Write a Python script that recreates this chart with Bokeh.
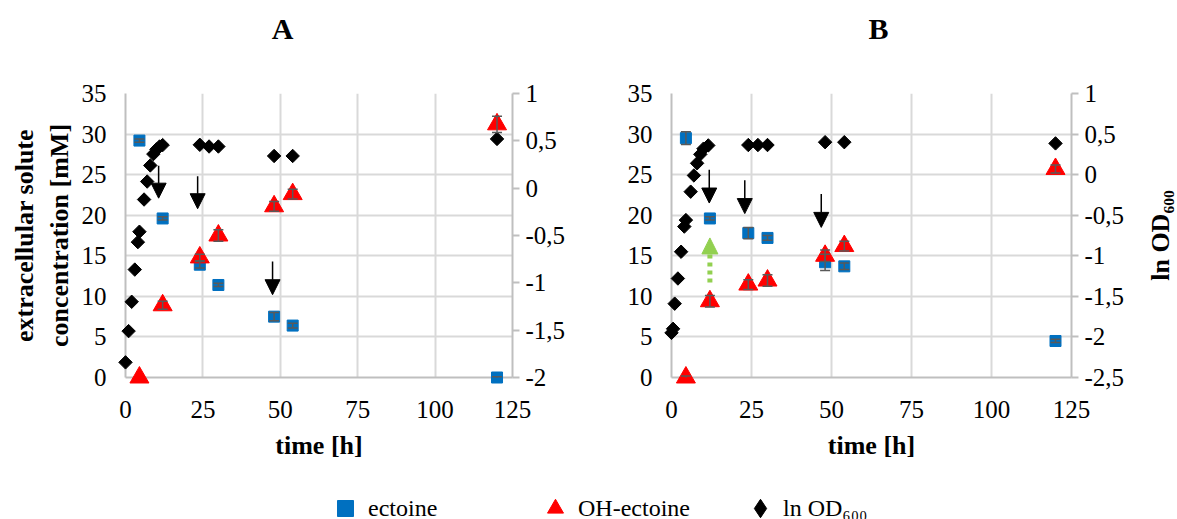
import numpy as np
from bokeh.plotting import figure
from bokeh.models import (Range1d, LinearAxis, FixedTicker, CustomJSTickFormatter, ColumnDataSource,
                          Whisker, TeeHead, Arrow, NormalHead, Legend, LegendItem)
from bokeh.core.properties import value
from bokeh.layouts import column, row
from bokeh.embed import file_html
from bokeh.resources import INLINE

FONT = "Liberation Serif"
BLUE = "#0070C0"
RED = "#FF0000"
GREEN = "#92D050"
GRID = "#D9D9D9"
AXIS = "#BFBFBF"
ERR = "#595959"

# ---------------- data ----------------
x_ticks = [0, 25, 50, 75, 100, 125]
conc_ticks = [0, 5, 10, 15, 20, 25, 30, 35]
od_ticks_a = [-2, -1.5, -1, -0.5, 0, 0.5, 1]
od_ticks_b = [-2.5, -2, -1.5, -1, -0.5, 0, 0.5, 1]

# Panel A
a_ect_t = [4.5, 12, 24, 30, 48, 54, 120]
a_ect = [29.2, 19.6, 13.9, 11.4, 7.5, 6.4, 0.0]
a_ect_err = [0.2, 0.2, 0.4, 0.2, 0.5, 0.3, 0.1]
a_oh_t = [4.5, 12, 24, 30, 48, 54, 120]
a_oh = [0.0, 8.9, 14.8, 17.5, 21.1, 22.6, 31.2]
a_oh_err = [0.0, 0.5, 0.4, 0.7, 0.6, 0.6, 1.0]
a_od_t = [0, 1, 2, 3, 4, 4.5, 6, 7, 8, 9, 10, 11, 12, 24, 27, 30, 48, 54, 120]
a_od = [-1.84, -1.51, -1.2, -0.86, -0.57, -0.46, -0.12, 0.07, 0.24, 0.36, 0.41, 0.44, 0.455,
        0.458, 0.44, 0.44, 0.34, 0.34, 0.52]
a_arrow_t = [10.7, 23.3, 47.5]
a_arrow_from = [26.1, 24.8, 14.3]
a_arrow_to = [22.1, 20.8, 10.2]

# Panel B
b_ect_t = [4.5, 12, 24, 30, 48, 54, 120]
b_ect = [29.5, 19.6, 17.8, 17.2, 14.2, 13.7, 4.5]
b_ect_err = [0.8, 0.2, 0.7, 0.3, 1.0, 0.4, 0.2]
b_oh_t = [4.5, 12, 24, 30, 48, 54, 120]
b_oh = [0.0, 9.4, 11.45, 11.95, 15.0, 16.2, 25.7]
b_oh_err = [0.2, 0.7, 0.6, 0.7, 0.7, 0.6, 0.5]
b_od_t = [0, 0.5, 1, 2, 3, 4, 4.5, 6, 7, 8, 9, 10, 11.5, 24, 27, 30, 48, 54, 120]
b_od = [-1.95, -1.9, -1.59, -1.28, -0.95, -0.64, -0.56, -0.21, -0.01, 0.14, 0.25, 0.32, 0.36,
        0.365, 0.365, 0.365, 0.40, 0.40, 0.385]
b_arrow_t = [11.8, 22.9, 46.8]
b_arrow_from = [25.6, 24.3, 22.6]
b_arrow_to = [21.5, 20.2, 18.5]
b_green_t = [12]
b_green_from = [11.7]
b_green_to = [17.2]

H = 474
TICK_SIZE = "25px"
LABEL_SIZE = "26px"
comma_fmt = CustomJSTickFormatter(code="return tick.toString().replace('.', ',');")


def style_text_axis(ax):
    ax.major_label_text_font = FONT
    ax.major_label_text_font_size = TICK_SIZE
    ax.major_label_text_color = "black"
    ax.axis_label_text_font = FONT
    ax.axis_label_text_font_size = LABEL_SIZE
    ax.axis_label_text_font_style = "bold"
    ax.axis_label_text_color = "black"
    ax.minor_tick_line_color = None
    ax.axis_line_color = AXIS
    ax.axis_line_width = 2


def add_text(p, x, y, txt, size, angle=0.0):
    r = p.text(x=[x], y=[y], text=[txt], angle=angle, text_font=value(FONT),
               text_font_size=value(size), text_font_style="bold", text_color="black",
               text_align="center", text_baseline="middle")
    r.level = "annotation"
    return r


def make_panel(title, title_x, width, left, right,
               ect_t, ect, ect_err, oh_t, oh, oh_err, od_t, od, od_range, od_ticks,
               arr_t, arr_from, arr_to, left_label):
    p = figure(width=width, height=H, x_range=Range1d(0, 125), y_range=Range1d(0, 35),
               output_backend="svg", toolbar_location=None,
               min_border_left=left, min_border_right=right, min_border_top=93, min_border_bottom=97)
    p.outline_line_color = None

    xa = p.below[0]
    style_text_axis(xa)
    xa.ticker = FixedTicker(ticks=x_ticks)
    xa.major_tick_line_color = None
    xa.major_label_standoff = 17
    xa.axis_label = "time [h]"
    xa.axis_label_standoff = 10

    ya = p.left[0]
    style_text_axis(ya)
    ya.ticker = FixedTicker(ticks=conc_ticks)
    ya.major_tick_line_color = None
    ya.major_label_standoff = 13
    if left_label:
        ya.axis_label = left_label
        ya.axis_label_standoff = 5

    p.xgrid.ticker = FixedTicker(ticks=x_ticks)
    p.xgrid.grid_line_color = GRID
    p.xgrid.grid_line_width = 2
    p.ygrid.grid_line_color = GRID
    p.ygrid.grid_line_width = 2

    p.extra_y_ranges = {"od": Range1d(*od_range)}
    ra = LinearAxis(y_range_name="od", ticker=FixedTicker(ticks=od_ticks), formatter=comma_fmt)
    style_text_axis(ra)
    ra.major_tick_line_color = AXIS
    ra.major_tick_line_width = 2
    ra.major_tick_in = 0
    ra.major_tick_out = 7
    ra.major_label_standoff = 6
    p.add_layout(ra, "right")

    # panel title
    add_text(p, title_x, 43.0, title, "30px")

    # markers
    rs = [
        p.scatter(ect_t, ect, marker="square", size=11, fill_color=BLUE, line_color=BLUE),
        p.scatter(oh_t, oh, marker="triangle", size=19, fill_color=RED, line_color=RED),
        p.scatter(od_t, od, marker="square", angle=np.pi / 4, size=9.5, fill_color="black",
                  line_color="black", y_range_name="od"),
    ]
    for r in rs:
        r.level = "annotation"

    # error bars
    for t, v, e in ((ect_t, ect, ect_err), (oh_t, oh, oh_err)):
        tt = [ti for ti, ei in zip(t, e) if ei > 0]
        lo = [vi - ei for vi, ei in zip(v, e) if ei > 0]
        up = [vi + ei for vi, ei in zip(v, e) if ei > 0]
        src = ColumnDataSource(dict(t=tt, lo=lo, up=up))
        w = Whisker(base="t", lower="lo", upper="up", source=src, line_color=ERR, line_width=1.5,
                    upper_head=TeeHead(size=10, line_color=ERR, line_width=1.5),
                    lower_head=TeeHead(size=10, line_color=ERR, line_width=1.5))
        w.level = "annotation"
        p.add_layout(w)

    # annotation arrows
    asrc = ColumnDataSource(dict(x0=arr_t, y0=arr_from, x1=arr_t, y1=arr_to))
    p.add_layout(Arrow(source=asrc, x_start="x0", y_start="y0", x_end="x1", y_end="y1",
                       line_color="black", line_width=1.5,
                       end=NormalHead(size=15, fill_color="black", line_color="black")))
    return p


pA = make_panel("A", 50.7, 580, 125, 68,
                a_ect_t, a_ect, a_ect_err, a_oh_t, a_oh, a_oh_err, a_od_t, a_od, (-2, 1), od_ticks_a,
                a_arrow_t, a_arrow_from, a_arrow_to,
                "extracellular solute\nconcentration [mM]")
pB = make_panel("B", 64.7, 597, 91, 106,
                b_ect_t, b_ect, b_ect_err, b_oh_t, b_oh, b_oh_err, b_od_t, b_od, (-2.5, 1), od_ticks_b,
                b_arrow_t, b_arrow_from, b_arrow_to, None)

gsrc = ColumnDataSource(dict(x0=b_green_t, y0=b_green_from, x1=b_green_t, y1=b_green_to))
pB.add_layout(Arrow(source=gsrc, x_start="x0", y_start="y0", x_end="x1", y_end="y1",
                    line_color=GREEN, line_width=5, line_dash="4 4",
                    end=NormalHead(size=16, fill_color=GREEN, line_color=GREEN)))

# right-hand axis title of panel B (reads bottom to top)
add_text(pB, 152.8, 17.5, "ln OD\u2086\u2080\u2080", LABEL_SIZE, angle=np.pi / 2)

# legend strip
pL = figure(width=1177, height=45, x_range=Range1d(0, 1), y_range=Range1d(0, 1),
            output_backend="svg", toolbar_location=None, min_border=0)
pL.axis.visible = False
pL.grid.visible = False
pL.outline_line_color = None
off = [-5]
r1 = pL.scatter(x=off, y=off, marker="square", size=16, fill_color=BLUE, line_color=BLUE)
r2 = pL.scatter(x=off, y=off, marker="triangle", size=18, fill_color=RED, line_color=RED)
r3 = pL.scatter(x=off, y=off, marker="diamond", size=16, fill_color="black", line_color="black")
legend_labels = ["ectoine", "OH-ectoine", "ln OD\u2086\u2080\u2080"]
legend_x = [325, 535, 737]
legend_glyph = [40, 40, 46]
for r, lbl, lx, gs in zip((r1, r2, r3), legend_labels, legend_x, legend_glyph):
    lg = Legend(items=[LegendItem(label=lbl, renderers=[r])], location=(lx, -9 - (gs - 40) // 2),
                glyph_width=gs, glyph_height=gs, label_standoff=3 - (gs - 40) // 2, padding=0, margin=0,
                border_line_color=None, background_fill_alpha=0,
                label_text_font=FONT, label_text_font_size="24px", label_text_color="black")
    pL.add_layout(lg)

layout = column(row(pA, pB), pL)
open("out.html", "w").write(file_html(layout, INLINE))
